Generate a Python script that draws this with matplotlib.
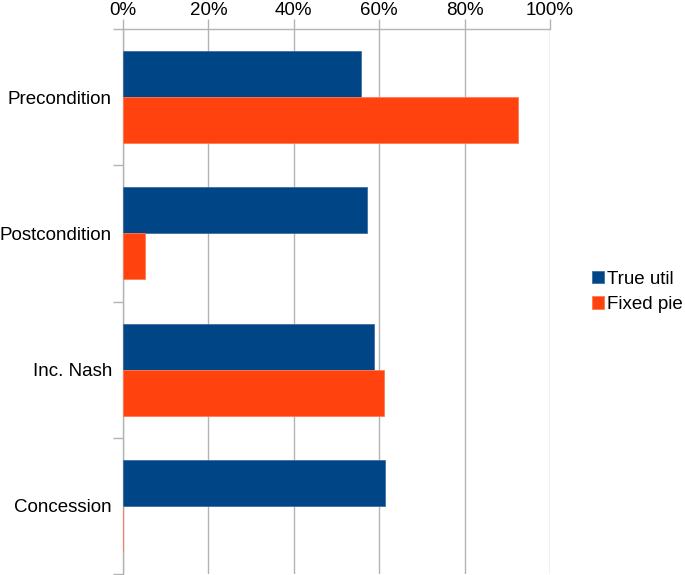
import numpy as np
import matplotlib.pyplot as plt
from matplotlib.ticker import FixedLocator, PercentFormatter

## data
categories = ['Precondition', 'Postcondition', 'Inc. Nash', 'Concession']
true_util = [55.8, 57.1, 58.8, 61.4]
fixed_pie = [92.6, 5.1, 61.2, 0.0]
x_ticks = [0, 20, 40, 60, 80, 100]

blue = '#004586'
orange = '#ff420e'
grey = '#b3b3b3'

plt.rcParams['font.family'] = ['Liberation Sans', 'DejaVu Sans']

fig = plt.figure(figsize=(6.85, 5.75), dpi=100)
ax = fig.add_axes([123 / 685, 1 - 574 / 575, 427 / 685, 545 / 575])

y = np.arange(len(categories))
h = 0.337
ax.barh(y - h / 2, true_util, height=h, color=blue, edgecolor='#3c6fa5',
        linewidth=0.6, label='True util', zorder=3)
ax.barh(y + h / 2, fixed_pie, height=h, color=orange, edgecolor='#ff7a55',
        linewidth=0.6, label='Fixed pie', zorder=3)

ax.set_xlim(0, 100)
ax.set_ylim(len(categories) - 0.5, -0.5)

# x axis on top
ax.xaxis.tick_top()
ax.set_xticks(x_ticks)
ax.xaxis.set_major_formatter(PercentFormatter(decimals=0))
ax.tick_params(axis='x', length=7, width=1, color=grey, pad=0.5, labelsize=13.5)
ax.grid(axis='x', color=grey, linewidth=1, zorder=0)

# category labels, ticks at group boundaries
ax.set_yticks(y)
ax.set_yticklabels(categories)
ax.tick_params(axis='y', which='major', length=0, pad=8, labelsize=13.5)
ax.yaxis.set_minor_locator(FixedLocator(np.arange(-0.5, len(categories), 1)))
ax.tick_params(axis='y', which='minor', length=7, width=1, color=grey)

for side in ['right', 'bottom']:
    ax.spines[side].set_visible(False)
for side in ['left', 'top']:
    ax.spines[side].set_color(grey)
    ax.spines[side].set_linewidth(1)

fig.legend(loc='center left', bbox_to_anchor=(584 / 685, 1 - 292 / 575),
           frameon=False, fontsize=13.5, handlelength=0.65, handleheight=0.65,
           handletextpad=0.2, labelspacing=0.45, borderaxespad=0)

plt.savefig('out.png', dpi=100)
